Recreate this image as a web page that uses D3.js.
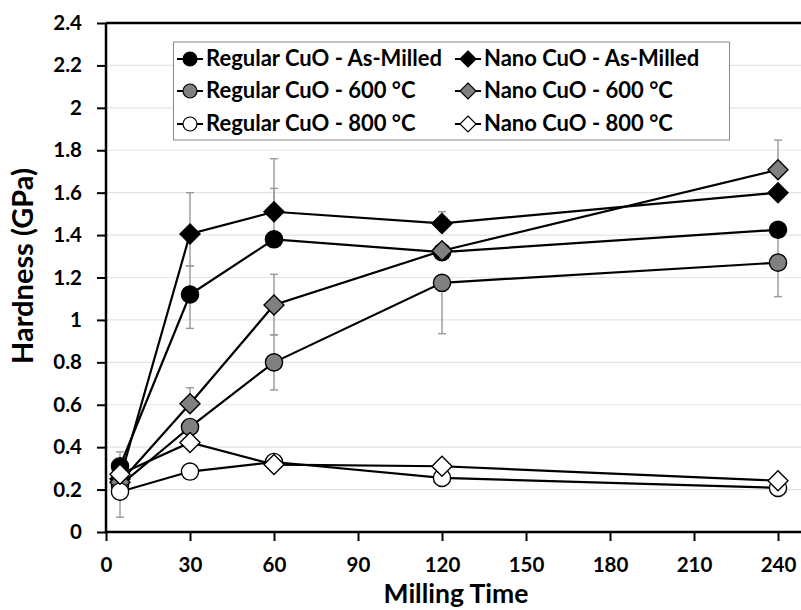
<!DOCTYPE html>
<html><head><meta charset="utf-8">
<script src="https://cdn.jsdelivr.net/npm/d3@7"></script>
<style>body{margin:0;background:#fff}svg{display:block}text{font-family:Lato,"Open Sans",sans-serif;font-weight:700;fill:#000}</style>
</head><body><svg id="c" width="801" height="610"></svg>
<script>
const times = [5, 30, 60, 120, 240];
const xTicks = [0, 30, 60, 90, 120, 150, 180, 210, 240];
const yTicks = [0, 0.2, 0.4, 0.6, 0.8, 1, 1.2, 1.4, 1.6, 1.8, 2, 2.2, 2.4];
const seriesNames = ["Regular CuO - As-Milled", "Nano CuO - As-Milled", "Regular CuO - 600 °C", "Nano CuO - 600 °C", "Regular CuO - 800 °C", "Nano CuO - 800 °C"];
const regAM   = [0.31, 1.12, 1.38, 1.32, 1.425];
const nanoAM  = [0.25, 1.405, 1.51, 1.455, 1.60];
const reg600  = [0.22, 0.495, 0.80, 1.175, 1.27];
const nano600 = [0.235, 0.605, 1.07, 1.326, 1.708];
const reg800  = [0.19, 0.285, 0.33, 0.255, 0.208];
const nano800 = [0.272, 0.422, 0.318, 0.31, 0.242];
const regAMUp   = [0.068, 0.135, 0.24, 0, 0];
const regAMDown = [0, 0.16, 0, 0, 0];
const nanoAMUp   = [0, 0.195, 0.25, 0.055, 0];
const nanoAMDown = [0, 0.15, 0, 0, 0];
const reg600Up   = [0, 0, 0.13, 0, 0.16];
const reg600Down = [0, 0, 0.13, 0.24, 0.16];
const nano600Up   = [0, 0.075, 0.145, 0, 0.14];
const nano600Down = [0, 0, 0.14, 0, 0];
const reg800Up   = [0, 0, 0, 0, 0];
const reg800Down = [0.12, 0, 0, 0, 0];
const nano800Up   = [0, 0, 0, 0, 0];
const nano800Down = [0, 0, 0, 0, 0];

const series = [
  {name: seriesNames[0], v: regAM,   up: regAMUp,   dn: regAMDown,   shape: "circle",  fill: "#000"},
  {name: seriesNames[1], v: nanoAM,  up: nanoAMUp,  dn: nanoAMDown,  shape: "diamond", fill: "#000"},
  {name: seriesNames[2], v: reg600,  up: reg600Up,  dn: reg600Down,  shape: "circle",  fill: "#808080"},
  {name: seriesNames[3], v: nano600, up: nano600Up, dn: nano600Down, shape: "diamond", fill: "#808080"},
  {name: seriesNames[4], v: reg800,  up: reg800Up,  dn: reg800Down,  shape: "circle",  fill: "#fff"},
  {name: seriesNames[5], v: nano800, up: nano800Up, dn: nano800Down, shape: "diamond", fill: "#fff"}
];

const svg = d3.select("#c");
const L = 106, T = 23, B = 532, Rr = 862;
const x = d3.scaleLinear().domain([0, 270]).range([L, Rr]);
const y = d3.scaleLinear().domain([0, 2.4]).range([B, T]);

// gridlines
svg.append("g").selectAll("line").data(yTicks.slice(1)).join("line")
  .attr("x1", L).attr("x2", Rr).attr("y1", d => y(d)).attr("y2", d => y(d))
  .attr("stroke", "#e4e4e4").attr("stroke-width", 1.2);

// top border
svg.append("line").attr("x1", L).attr("x2", Rr).attr("y1", y(2.4)).attr("y2", y(2.4))
  .attr("stroke", "#000").attr("stroke-width", 2.5);

// axes
const yAxis = d3.axisLeft(y).tickValues(yTicks).tickFormat(d3.format("~g")).tickSize(9).tickPadding(15);
const gy = svg.append("g").attr("transform", `translate(${L},0)`).call(yAxis);
const xAxis = d3.axisBottom(x).tickValues(xTicks).tickSize(9).tickPadding(16);
const gx = svg.append("g").attr("transform", `translate(0,${B})`).call(xAxis);
[gx, gy].forEach(g => {
  g.select(".domain").attr("stroke", "#000").attr("stroke-width", 2.5);
  g.selectAll(".tick line").attr("stroke", "#000").attr("stroke-width", 2);
  g.selectAll(".tick text").style("font-size", "20.5px").style("font-family", "Lato").style("font-weight", 700).attr("fill", "#000");
});
gy.select(".domain").attr("d", `M0,${B}V${T}`);
gx.select(".domain").attr("d", `M${L},0H${Rr}`);

// axis titles
svg.append("text").attr("x", 456).attr("y", 603).attr("text-anchor", "middle")
  .style("font-size", "26.5px").text("Milling Time");
svg.append("text").attr("transform", "translate(33,266) rotate(-90)").attr("text-anchor", "middle")
  .style("font-size", "29px").text("Hardness (GPa)");

// error bars
const eg = svg.append("g").attr("stroke", "#999").attr("stroke-width", 1.4);
series.forEach(s => {
  times.forEach((t, i) => {
    const hi = s.v[i] + s.up[i], lo = s.v[i] - s.dn[i];
    if (s.up[i] > 0) {
      eg.append("line").attr("x1", x(t)).attr("x2", x(t)).attr("y1", y(s.v[i])).attr("y2", y(hi));
      eg.append("line").attr("x1", x(t) - 4).attr("x2", x(t) + 4).attr("y1", y(hi)).attr("y2", y(hi));
    }
    if (s.dn[i] > 0) {
      eg.append("line").attr("x1", x(t)).attr("x2", x(t)).attr("y1", y(s.v[i])).attr("y2", y(lo));
      eg.append("line").attr("x1", x(t) - 4).attr("x2", x(t) + 4).attr("y1", y(lo)).attr("y2", y(lo));
    }
  });
});

function marker(g, shape, cx, cy, fill) {
  if (shape === "circle") {
    g.append("circle").attr("cx", cx).attr("cy", cy).attr("r", 8.6)
      .attr("fill", fill).attr("stroke", "#000").attr("stroke-width", 1.4);
  } else {
    const r = 10;
    g.append("path").attr("d", `M${cx},${cy - r}L${cx + r},${cy}L${cx},${cy + r}L${cx - r},${cy}Z`)
      .attr("fill", fill).attr("stroke", "#000").attr("stroke-width", 1.4);
  }
}

const line = d3.line().x((d, i) => x(times[i])).y(d => y(d));
series.forEach(s => {
  const g = svg.append("g");
  g.append("path").attr("d", line(s.v)).attr("fill", "none").attr("stroke", "#000").attr("stroke-width", 2.2);
  s.v.forEach((v, i) => marker(g, s.shape, x(times[i]), y(v), s.fill));
});

// legend
svg.append("rect").attr("x", 173.5).attr("y", 42).attr("width", 556).attr("height", 98)
  .attr("fill", "#fff").attr("stroke", "#888").attr("stroke-width", 1);
const colX = [190, 468], rowY = [59, 91, 124];
series.forEach((s, k) => {
  const cx = colX[k % 2], cy = rowY[Math.floor(k / 2)];
  const g = svg.append("g");
  g.append("line").attr("x1", cx - 13).attr("x2", cx + 13).attr("y1", cy).attr("y2", cy)
    .attr("stroke", "#000").attr("stroke-width", 2);
  if (s.shape === "circle") {
    g.append("circle").attr("cx", cx).attr("cy", cy).attr("r", 7)
      .attr("fill", s.fill).attr("stroke", "#000").attr("stroke-width", 1.2);
  } else {
    const r = 8;
    g.append("path").attr("d", `M${cx},${cy - r}L${cx + r},${cy}L${cx},${cy + r}L${cx - r},${cy}Z`)
      .attr("fill", s.fill).attr("stroke", "#000").attr("stroke-width", 1.2);
  }
  g.append("text").attr("x", cx + 16).attr("y", cy + 6.5).style("font-size", "22px").text(s.name);
});
</script></body></html>
